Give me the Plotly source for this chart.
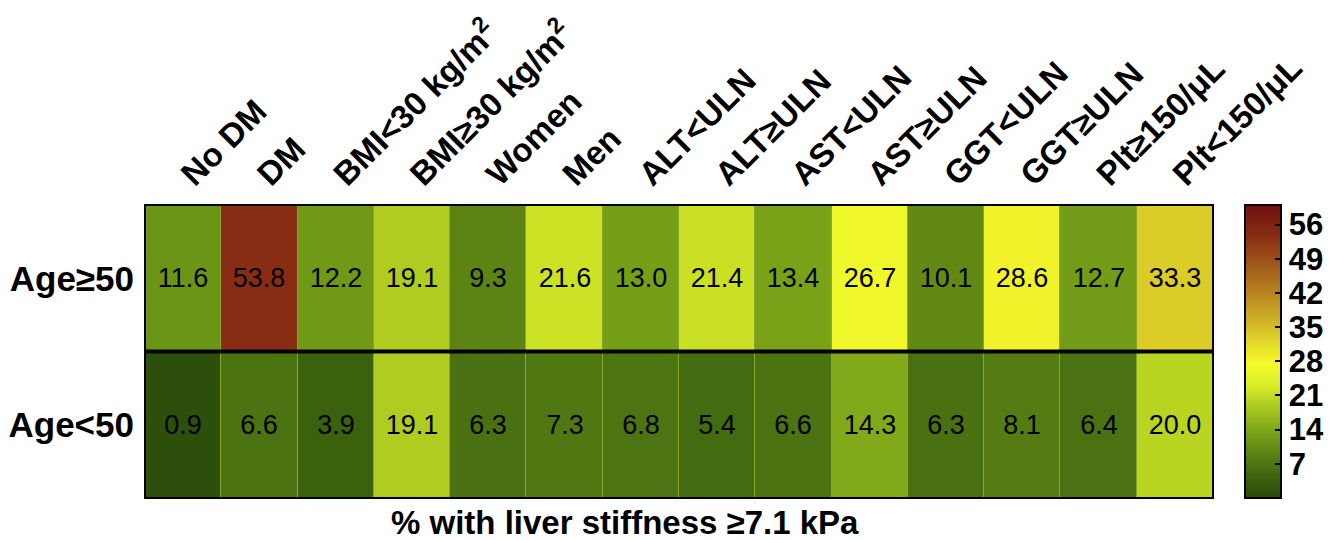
import plotly.graph_objects as go

categories = ["No DM", "DM", "BMI<30 kg/m<sup>2</sup>", "BMI≥30 kg/m<sup>2</sup>", "Women", "Men",
              "ALT<ULN", "ALT≥ULN", "AST<ULN", "AST≥ULN", "GGT<ULN", "GGT≥ULN",
              "Plt≥150/μL", "Plt<150/μL"]
rows = ["Age≥50", "Age<50"]
age_ge50 = [11.6, 53.8, 12.2, 19.1, 9.3, 21.6, 13.0, 21.4, 13.4, 26.7, 10.1, 28.6, 12.7, 33.3]
age_lt50 = [0.9, 6.6, 3.9, 19.1, 6.3, 7.3, 6.8, 5.4, 6.6, 14.3, 6.3, 8.1, 6.4, 20.0]
cbar_ticks = [7, 14, 21, 28, 35, 42, 49, 56]

colorscale = [
    [0.0, "#284608"],
    [0.015, "#2d4f0c"],
    [0.065, "#3a610c"],
    [0.108, "#4a7212"],
    [0.17, "#628a14"],
    [0.21, "#729c18"],
    [0.318, "#b0cc20"],
    [0.38, "#d8ec28"],
    [0.46, "#f6fa2a"],
    [0.555, "#dccc28"],
    [0.70, "#b88220"],
    [0.897, "#882c14"],
    [1.0, "#701010"],
]

FONT = "Liberation Sans, Arial, sans-serif"

fig = go.Figure(go.Heatmap(
    z=[age_ge50, age_lt50],
    x=categories,
    y=rows,
    zmin=0, zmax=60,
    colorscale=colorscale,
    texttemplate="%{z:.1f}",
    textfont=dict(family=FONT, size=27, color="black"),
    xgap=1,
    colorbar=dict(
        x=1.03, xanchor="left", xpad=0,
        y=0.5, yanchor="middle", ypad=0,
        len=1, lenmode="fraction",
        thickness=36,
        outlinewidth=2, outlinecolor="black",
        tickvals=cbar_ticks,
        ticks="inside", ticklen=7, tickwidth=2, tickcolor="black",
        tickprefix=" ",
        tickfont=dict(family=FONT, size=31, color="black", weight="bold"),
    ),
))

fig.update_xaxes(side="top", tickangle=-45, showgrid=False, ticks="", zeroline=False,
                 ticklabelstandoff=5, automargin=False,
                 tickfont=dict(family=FONT, size=33, color="black", weight="bold"))
fig.update_yaxes(autorange="reversed", showgrid=False, ticks="", zeroline=False,
                 ticklabelstandoff=10, automargin=False,
                 tickfont=dict(family=FONT, size=35, color="black", weight="bold"))

fig.add_shape(type="rect", xref="paper", yref="paper", x0=0, x1=1, y0=0, y1=1,
              line=dict(color="black", width=2))
fig.add_shape(type="line", xref="paper", yref="paper", x0=0, x1=1, y0=0.5, y1=0.5,
              line=dict(color="black", width=4))

fig.add_annotation(text="% with liver stiffness ≥7.1 kPa", xref="paper", yref="paper",
                   x=0.449, y=-0.082, xanchor="center", yanchor="middle", showarrow=False,
                   font=dict(family=FONT, size=33, color="black", weight="bold"))

fig.update_layout(
    width=1342, height=540,
    margin=dict(l=137, r=137, t=197, b=50, autoexpand=False),
    paper_bgcolor="white", plot_bgcolor="#8aa830",
)

fig.write_html("out.html")
